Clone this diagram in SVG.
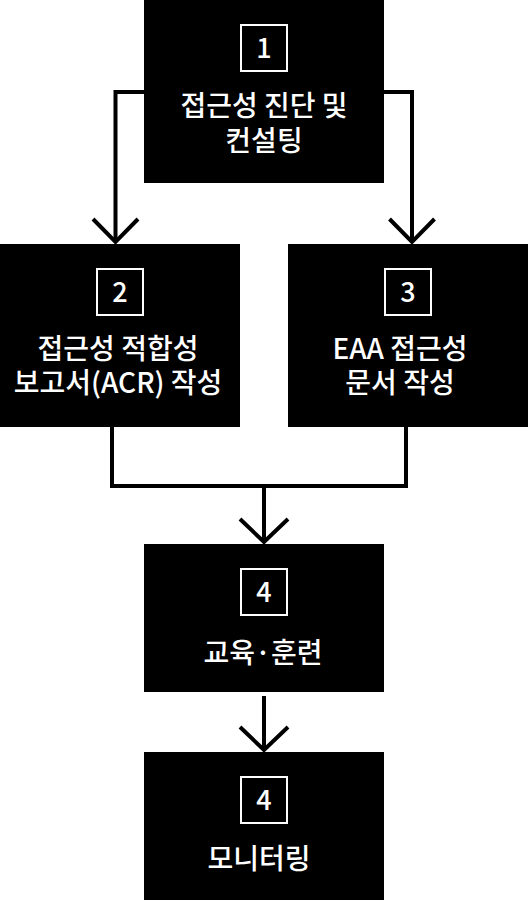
<svg xmlns="http://www.w3.org/2000/svg" width="528" height="900" viewBox="0 0 528 900">
<style>
.box{fill:#000}
.sq{fill:none;stroke:#fff;stroke-width:2}
.num{font-family:"Noto Sans CJK KR","Noto Sans",sans-serif;font-size:27px;font-weight:500;fill:#fff;text-anchor:middle}
.lbl{font-family:"Noto Sans CJK KR","Noto Sans",sans-serif;font-size:28px;font-weight:500;fill:#fff;text-anchor:middle}
.ln{fill:none;stroke:#000;stroke-width:4;stroke-linejoin:miter;stroke-linecap:butt}
</style>
<rect width="528" height="900" fill="#fff"/>
<g id="connectors">
<polyline class="ln" points="144,92 115.5,92 115.5,242"/>
<polyline class="ln" points="93,219 115.5,242 138,219"/>
<polyline class="ln" points="384,92 412,92 412,242"/>
<polyline class="ln" points="389.5,219 412,242 434.5,219"/>
<polyline class="ln" points="112,427 112,486 406,486 406,427"/>
<line class="ln" x1="264" y1="486" x2="264" y2="542"/>
<polyline class="ln" points="240,519 264,542 288,519"/>
<line class="ln" x1="264" y1="696" x2="264" y2="750"/>
<polyline class="ln" points="240,727 264,750 288,727"/>
</g>
<g id="node1">
<rect class="box" x="144" y="0" width="240" height="183"/>
<rect class="sq" x="241" y="25" width="46" height="46"/>
<text class="num" x="264" y="58">1</text>
<text class="lbl" x="264" y="116">접근성 진단 및</text>
<text class="lbl" x="264" y="151">컨설팅</text>
</g>
<g id="node2">
<rect class="box" x="0" y="244" width="240" height="183"/>
<rect class="sq" x="97" y="269" width="46" height="46"/>
<text class="num" x="120" y="302">2</text>
<text class="lbl" x="118" y="359">접근성 적합성</text>
<text class="lbl" x="118" y="393">보고서(ACR) 작성</text>
</g>
<g id="node3">
<rect class="box" x="288" y="244" width="240" height="183"/>
<rect class="sq" x="385" y="269" width="46" height="46"/>
<text class="num" x="408" y="302">3</text>
<text class="lbl" x="400" y="359">EAA 접근성</text>
<text class="lbl" x="400" y="393">문서 작성</text>
</g>
<g id="node4">
<rect class="box" x="144" y="544" width="240" height="148"/>
<rect class="sq" x="241" y="569" width="46" height="46"/>
<text class="num" x="264" y="602">4</text>
<text class="lbl" x="263" y="663">교육·훈련</text>
</g>
<g id="node5">
<rect class="box" x="144" y="752" width="240" height="148"/>
<rect class="sq" x="241" y="777" width="46" height="46"/>
<text class="num" x="264" y="810">4</text>
<text class="lbl" x="259" y="869">모니터링</text>
</g>
</svg>
